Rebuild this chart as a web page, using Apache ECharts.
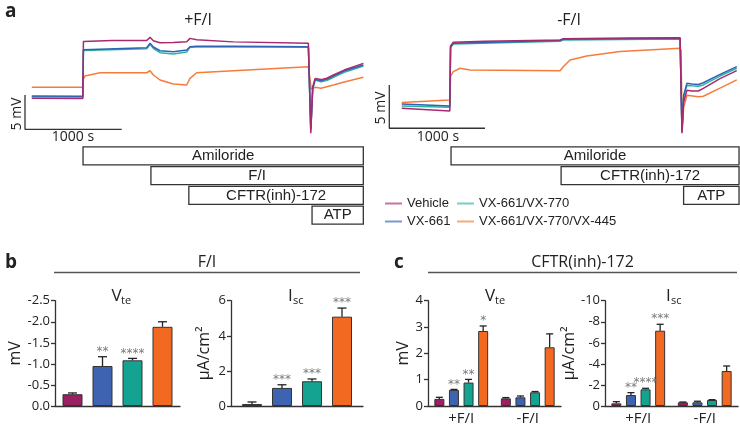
<!DOCTYPE html>
<html>
<head>
<meta charset="utf-8">
<script src="https://cdn.jsdelivr.net/npm/echarts@6/dist/echarts.min.js"></script>
<style>html,body{margin:0;background:#fff}#chart{width:740px;height:432px}</style>
</head>
<body>
<div id="chart"></div>
<script>
// treatments, colours
var treatments = ['Vehicle', 'VX-661', 'VX-661/VX-770', 'VX-661/VX-770/VX-445'];
var traceColors = ['#a8296f', '#2e63b6', '#2cb2a4', '#f57c3b'];
var barColors = ['#9a1f63', '#3e63b0', '#14a391', '#f26a21'];

// panel a, +F/I traces: [time s, mV]
var vehPlus = [[70,4.52],[598,4.5],[604,12.8],[620,12.92],[900,12.95],[1258,12.95],[1293,13.41],[1327,12.92],[1396,12.62],[1534,12.67],[1672,12.77],[1706,13.26],[1775,13.05],[2154,12.75],[2930,12.54],[2942,12.5],[2955,-0.58],[2975,6.2],[3000,7.43],[3060,7.25],[3120,7.45],[3189,7.92],[3300,8.64],[3499,9.62]];
var vx661Plus = [[70,4.85],[598,4.82],[604,11.6],[620,11.8],[1258,11.9],[1293,12.54],[1327,12.0],[1396,11.46],[1534,11.31],[1672,11.56],[1706,12.04],[1775,12.1],[2154,12.1],[2930,12.04],[2942,12.0],[2955,-0.1],[2975,6.0],[3000,7.29],[3060,7.09],[3120,7.3],[3189,7.77],[3300,8.5],[3499,9.37]];
var vx770Plus = [[70,4.75],[598,4.72],[604,11.5],[620,11.66],[1258,11.75],[1293,12.39],[1327,11.8],[1396,11.17],[1534,10.98],[1672,11.27],[1706,11.95],[1775,12.0],[2154,12.04],[2930,11.95],[2942,11.9],[2955,0.14],[2975,5.8],[3000,7.19],[3060,6.94],[3120,7.1],[3189,7.58],[3300,8.3],[3499,9.23]];
var vx445Plus = [[70,6.12],[598,6.12],[604,7.3],[620,7.77],[776,8.25],[1258,8.25],[1293,8.54],[1327,7.92],[1396,7.19],[1534,6.6],[1672,6.46],[1706,7.43],[1775,8.25],[2154,8.54],[2930,9.13],[2945,9.0],[2960,5.83],[3000,6.12],[3060,6.0],[3189,6.46],[3300,6.9],[3499,7.58]];

// panel a, -F/I traces
var vehMinus = [[130,2.31],[632,2.0],[640,9.5],[669,9.93],[1000,10.05],[1784,10.2],[1818,10.35],[2500,10.42],[3038,10.46],[3048,10.3],[3058,-0.58],[3075,3.0],[3110,4.4],[3160,4.3],[3229,4.3],[3281,4.6],[3450,5.7],[3630,6.65]];
var vx661Minus = [[130,2.81],[632,2.58],[640,9.4],[669,9.81],[1784,10.12],[1818,10.28],[3038,10.39],[3048,10.2],[3058,-0.39],[3075,3.8],[3110,5.2],[3160,5.1],[3229,5.05],[3281,5.25],[3450,6.2],[3630,7.11]];
var vx770Minus = [[130,2.58],[632,2.42],[640,9.3],[669,9.73],[1784,10.05],[1818,10.2],[3038,10.31],[3048,10.1],[3058,-0.2],[3075,3.6],[3110,4.95],[3160,4.9],[3229,4.85],[3281,5.0],[3450,6.0],[3630,6.93]];
var vx445Minus = [[130,2.96],[632,3.27],[640,6.0],[669,6.54],[739,6.93],[843,6.73],[1784,6.65],[1818,7.11],[1888,7.89],[2063,8.35],[2411,8.85],[3038,9.24],[3048,9.0],[3060,-0.2],[3075,2.4],[3110,3.8],[3229,3.65],[3281,3.7],[3450,4.6],[3630,5.58]];

var scaleTime = 1000;   // s
var scaleVolt = 5;      // mV

// drug application bars
var plusDrugs = ['Amiloride', 'F/I', 'CFTR(inh)-172', 'ATP'];
var plusDrugStart = [600, 1302, 1694, 2968];
var plusDrugEnd = 3498;
var minusDrugs = ['Amiloride', 'CFTR(inh)-172', 'ATP'];
var minusDrugStart = [645, 1795, 3075];
var minusDrugEnd = 3654;

// panel b (F/I), one value per treatment
var bVteMean = [-0.28, -0.95, -1.085, -1.88];
var bVteSem = [0.03, 0.22, 0.045, 0.12];
var bVteStars = ['', '**', '****', ''];
var bIscMean = [0.11, 1.03, 1.41, 5.09];
var bIscSem = [0.12, 0.18, 0.13, 0.49];
var bIscStars = ['', '***', '***', '***'];

// panel c (CFTR(inh)-172), per treatment [+F/I, -F/I]
var cConds = ['+F/I', '-F/I'];
var cVteMean = [[0.27, 0.29], [0.61, 0.33], [0.89, 0.52], [2.85, 2.23]];
var cVteSem = [[0.06, 0.03], [0.02, 0.05], [0.12, 0.03], [0.19, 0.51]];
var cVteStars = [['', ''], ['**', ''], ['**', ''], ['*', '']];
var cIscMean = [[-0.25, -0.35], [-1.04, -0.35], [-1.58, -0.57], [-7.15, -3.32]];
var cIscSem = [[0.16, 0.03], [0.23, 0.1], [0.1, 0.03], [0.61, 0.48]];
var cIscStars = [['', ''], ['**', ''], ['****', ''], ['***', '']];

var FONT = "'Open Sans', 'Noto Sans', sans-serif";
var NARROW = "'Liberation Sans Narrow', 'Liberation Sans', sans-serif";
var INK = '#333';

var chart = echarts.init(document.getElementById('chart'), null, {renderer: 'canvas'});

function hiddenVal(grid, min, max, inverse) {
    return {gridIndex: grid, type: 'value', min: min, max: max, inverse: !!inverse, show: false};
}
function barY(grid, min, max, interval, inverse, name, gap, fmt) {
    return {
        gridIndex: grid, type: 'value', min: min, max: max, interval: interval, inverse: inverse,
        name: name, nameLocation: 'middle', nameGap: gap, nameRotate: 90,
        nameTextStyle: {fontFamily: FONT, fontSize: 16, color: '#222'},
        axisLine: {show: true, lineStyle: {color: INK, width: 1.3}},
        axisTick: {show: true, length: 4, lineStyle: {color: INK, width: 1.3}},
        axisLabel: {margin: 5, fontFamily: FONT, fontSize: 13, color: '#222', formatter: fmt},
        splitLine: {show: false}
    };
}
function barX(grid, cats, showLabel) {
    return {
        gridIndex: grid, type: 'category', data: cats,
        axisLine: {lineStyle: {color: INK, width: 1.3}},
        axisTick: {show: false},
        axisLabel: {show: showLabel, margin: 5, fontFamily: FONT, fontSize: 15, color: '#222'}
    };
}

function traceSeries(name, data, i, axis) {
    return {
        type: 'line', name: name, xAxisIndex: axis, yAxisIndex: axis, data: data,
        symbol: 'none', color: traceColors[i], lineStyle: {width: 1.5}, silent: true, z: 2 + (3 - i)
    };
}

function drugSeries(axis, labels, starts, end) {
    var data = starts.map(function (s, r) { return [s, end, r]; });
    return {
        type: 'custom', xAxisIndex: axis, yAxisIndex: axis, data: data, clip: false, silent: true,
        renderItem: function (params, api) {
            var a = api.coord([api.value(0), api.value(2) + 0.5]);
            var b = api.coord([api.value(1), api.value(2) + 0.5]);
            return {
                type: 'rect',
                shape: {x: a[0], y: a[1] - 9, width: b[0] - a[0], height: 18},
                style: {fill: '#fff', stroke: INK, lineWidth: 1.3},
                textContent: {style: {text: labels[params.dataIndex], fontFamily: NARROW, fontSize: 15, fill: '#222'}},
                textConfig: {position: 'inside'}
            };
        }
    };
}

function barSeries(axis, means, i, width, gap) {
    return {
        type: 'bar', name: treatments[i], xAxisIndex: axis, yAxisIndex: axis,
        data: means, barWidth: width, barGap: gap, silent: true,
        itemStyle: {color: barColors[i], borderColor: INK, borderWidth: 1}
    };
}

// error bars (upwards only) plus significance stars
function errorSeries(axis, means, sems, stars, spacing, cap) {
    var data = [], labels = [];
    means.forEach(function (row, t) {
        row.forEach(function (m, c) {
            data.push([c, t, m, sems[t][c]]);
            labels.push(stars[t][c]);
        });
    });
    return {
        type: 'custom', xAxisIndex: axis, yAxisIndex: axis, data: data, z: 5, silent: true,
        encode: {x: 0, y: 2},
        renderItem: function (params, api) {
            var c = api.value(0), t = api.value(1), m = api.value(2), s = api.value(3);
            var p0 = api.coord([c, m]);
            var p1 = api.coord([c, m + (m < 0 ? -s : s)]);
            var x = p0[0] + (t - 1.5) * spacing;
            return {
                type: 'group',
                children: [
                    {type: 'line', shape: {x1: x, y1: p0[1], x2: x, y2: p1[1]}, style: {stroke: '#222', lineWidth: 1.3}},
                    {type: 'line', shape: {x1: x - cap, y1: p1[1], x2: x + cap, y2: p1[1]}, style: {stroke: '#222', lineWidth: 1.3}},
                    {type: 'text', x: x, y: p1[1] - 5, style: {text: labels[params.dataIndex], align: 'center', verticalAlign: 'middle', fontFamily: 'DejaVu Sans', fontSize: 12, fill: '#7a7a7a'}}
                ]
            };
        }
    };
}

var series = [];
[vx445Plus, vx770Plus, vx661Plus, vehPlus].forEach(function (d, k) {
    var i = 3 - k;
    series.push(traceSeries(treatments[i], d, i, 0));
});
[vx445Minus, vx770Minus, vx661Minus, vehMinus].forEach(function (d, k) {
    var i = 3 - k;
    series.push(traceSeries(treatments[i], d, i, 1));
});
[0, 1].forEach(function (ax) {
    series.push({
        type: 'line', xAxisIndex: ax, yAxisIndex: ax, symbol: 'none', silent: true,
        data: [[0, scaleVolt], [0, 0], [scaleTime, 0]],
        lineStyle: {color: INK, width: 1.3}
    });
});
series.push(drugSeries(2, plusDrugs, plusDrugStart, plusDrugEnd));
series.push(drugSeries(3, minusDrugs, minusDrugStart, minusDrugEnd));

treatments.forEach(function (t, i) {
    series.push(barSeries(4, [bVteMean[i]], i, 20, '50%'));
    series.push(barSeries(5, [bIscMean[i]], i, 20, '50%'));
    series.push(barSeries(6, cVteMean[i], i, 10, '46%'));
    series.push(barSeries(7, cIscMean[i], i, 10, '46%'));
});
series.push(errorSeries(4, bVteMean.map(function (v) { return [v]; }), bVteSem.map(function (v) { return [v]; }), bVteStars.map(function (v) { return [v]; }), 30, 4.5));
series.push(errorSeries(5, bIscMean.map(function (v) { return [v]; }), bIscSem.map(function (v) { return [v]; }), bIscStars.map(function (v) { return [v]; }), 30, 4.5));
series.push(errorSeries(6, cVteMean, cVteSem, cVteStars, 14.6, 3.5));
series.push(errorSeries(7, cIscMean, cIscSem, cIscStars, 14.6, 3.5));

function legendItem(name, left, top) {
    return {
        data: [name], left: left, top: top, icon: 'rect', itemWidth: 17, itemHeight: 2,
        itemGap: 0, selectedMode: false, padding: 0,
        itemStyle: {opacity: 0.65},
        textStyle: {fontFamily: NARROW, fontSize: 13, color: '#222'}
    };
}

function txt(text, x, y, size, opts) {
    opts = opts || {};
    return {
        type: 'text', x: x, y: y, rotation: opts.rotate || 0, silent: true,
        style: {
            text: text, fontFamily: opts.family || FONT, fontSize: size, fontWeight: opts.weight || 'normal',
            fill: '#222', align: opts.align || 'center', verticalAlign: 'middle'
        }
    };
}
function hline(x1, x2, y) {
    return {type: 'line', silent: true, shape: {x1: x1, y1: y, x2: x2, y2: y}, style: {stroke: '#555', lineWidth: 1.3}};
}

var graphics = [
    txt('a', 5, 12, 19, {weight: 'bold', align: 'left'}),
    txt('+F/I', 198, 20, 16),
    txt('-F/I', 569, 20, 16),
    txt('5 mV', 17, 114, 14, {rotate: Math.PI / 2}),
    txt('1000 s', 73, 137.5, 14),
    txt('5 mV', 381, 108, 14, {rotate: Math.PI / 2}),
    txt('1000 s', 438, 137, 14),
    txt('b', 5, 263, 19, {weight: 'bold', align: 'left'}),
    txt('F/I', 207, 262, 16),
    hline(54, 360, 272.5),
    txt('c', 394, 263, 19, {weight: 'bold', align: 'left'}),
    txt('CFTR(inh)-172', 582.5, 262, 16),
    hline(428, 737, 272.5),
    txt('V', 111.5, 296.5, 17, {align: 'left'}),
    txt('te', 121, 300.5, 11, {align: 'left'}),
    txt('I', 288, 296.5, 17, {align: 'left'}),
    txt('sc', 293, 300.5, 11, {align: 'left'}),
    txt('V', 485, 296.5, 17, {align: 'left'}),
    txt('te', 495, 300.5, 11, {align: 'left'}),
    txt('I', 666, 296.5, 17, {align: 'left'}),
    txt('sc', 671, 300.5, 11, {align: 'left'})
];

var option = {
    animation: false,
    backgroundColor: '#fff',
    textStyle: {fontFamily: FONT},
    grid: [
        {left: 25, top: 33.3, width: 338.5, height: 102.9},
        {left: 389.3, top: 33, width: 350.3, height: 103.9},
        {left: 25, top: 146, width: 338.5, height: 79},
        {left: 389.3, top: 146, width: 350.3, height: 79},
        {left: 55, top: 300.7, width: 125, height: 105.3},
        {left: 231, top: 300.7, width: 132, height: 105.3},
        {left: 428, top: 300.7, width: 133, height: 105.3},
        {left: 605, top: 300.7, width: 133, height: 105.3}
    ],
    xAxis: [
        hiddenVal(0, 0, 3500), hiddenVal(1, 0, 3660), hiddenVal(2, 0, 3500), hiddenVal(3, 0, 3660),
        barX(4, ['F/I'], false), barX(5, ['F/I'], false), barX(6, cConds, true), barX(7, cConds, true)
    ],
    yAxis: [
        hiddenVal(0, -1, 14), hiddenVal(1, -1, 11), hiddenVal(2, 0, 4, true), hiddenVal(3, 0, 4, true),
        barY(4, -2.5, 0, 0.5, true, 'mV', 28, function (v) { return v.toFixed(1); }),
        barY(5, 0, 6, 2, false, 'µA/cm²', 19),
        barY(6, 0, 4, 1, false, 'mV', 16),
        barY(7, -10, 0, 2, true, 'µA/cm²', 24)
    ],
    legend: [
        legendItem('Vehicle', 385, 197),
        legendItem('VX-661/VX-770', 457, 197),
        legendItem('VX-661', 385, 215),
        legendItem('VX-661/VX-770/VX-445', 457, 215)
    ],
    graphic: graphics,
    series: series
};
chart.setOption(option);
</script>
</body>
</html>
